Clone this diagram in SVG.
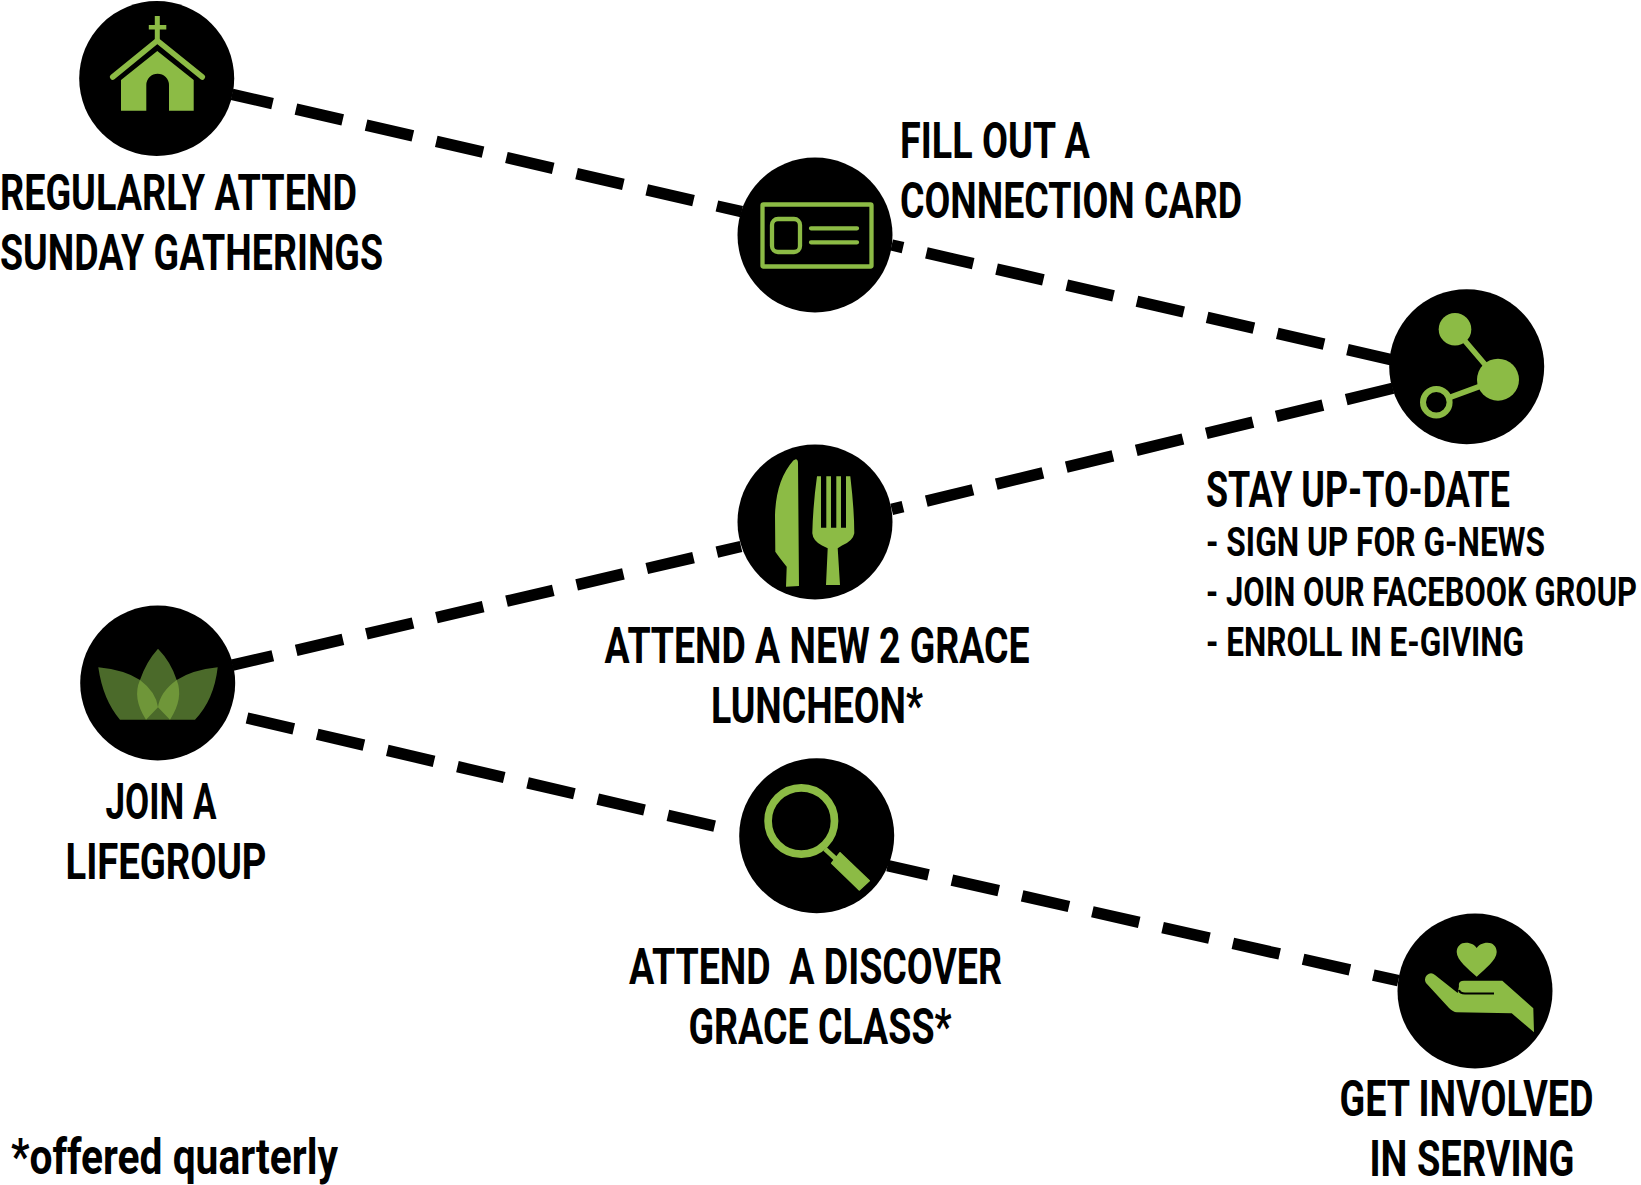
<svg xmlns="http://www.w3.org/2000/svg" width="1641" height="1185" viewBox="0 0 1641 1185">
<style>
.d{fill:none;stroke:#000;stroke-width:11.500;stroke-dasharray:48 24}
.c{fill:#000}
.g{fill:#8cbb45}
.s{fill:none;stroke:#8cbb45}
text{font-family:"Roboto","Liberation Sans",sans-serif;font-weight:700;fill:#000;white-space:pre}
.h{font-size:50px}
.m{font-size:40px}
.q{font-size:49px}
</style>
<rect width="1641" height="1185" fill="#fff"/>
<g id="connectors">
<line class="d" x1="232" y1="94.300" x2="741.700" y2="211.700" stroke-dashoffset="6.400"/>
<line class="d" x1="891.700" y1="245" x2="1392" y2="359.800" stroke-dashoffset="36.400"/>
<line class="d" x1="232.300" y1="665.200" x2="741" y2="546.500" stroke-dashoffset="6.400"/>
<line class="d" x1="891.700" y1="509.400" x2="1394" y2="388" stroke-dashoffset="36.400"/>
<line class="d" x1="247" y1="718" x2="718" y2="827"/>
<line class="d" x1="887.500" y1="865.600" x2="1398.300" y2="980.700" stroke-dashoffset="6"/>
</g>
<g id="node-church">
<circle class="c" cx="156.700" cy="78.500" r="77.500"/>
<path class="g" d="M154.800 16h5v9h6.500v4.500h-6.500V40h-5V29.500h-6V25h6z"/>
<path class="s" d="M112.700 77L157.300 40.700L202.300 77" stroke-width="5.500" stroke-linecap="round" stroke-linejoin="round"/>
<path class="g" d="M121 110.700V80L157.300 51L193.700 80V110.700H169V85A11.300 11.300 0 0 0 146.300 85V110.700Z"/>
<text class="h" transform="translate(0 209.500) scale(.75 1)" textLength="476" lengthAdjust="spacingAndGlyphs">REGULARLY ATTEND</text>
<text class="h" transform="translate(0 269.500) scale(.75 1)" textLength="510.700" lengthAdjust="spacingAndGlyphs">SUNDAY GATHERINGS</text>
</g>
<g id="node-card">
<circle class="c" cx="815" cy="235" r="77.500"/>
<rect class="s" x="762.500" y="204.500" width="109" height="62" stroke-width="4.300" rx="1"/>
<rect class="s" x="772" y="219" width="28" height="33" rx="6" stroke-width="4.300"/>
<path class="s" d="M811 228.300H857M811 242.300H857" stroke-width="4.300" stroke-linecap="round"/>
<text class="h" transform="translate(900 157.500) scale(.75 1)" textLength="253.300" lengthAdjust="spacingAndGlyphs">FILL OUT A</text>
<text class="h" transform="translate(900 218) scale(.75 1)" textLength="456" lengthAdjust="spacingAndGlyphs">CONNECTION CARD</text>
</g>
<g id="node-share">
<circle class="c" cx="1466.700" cy="366.700" r="77.500"/>
<path class="s" d="M1455 329.300L1498 379.700L1436.300 402.300" stroke-width="5.500"/>
<circle class="g" cx="1455" cy="329.300" r="16.300"/>
<circle class="g" cx="1498" cy="379.700" r="21"/>
<circle cx="1436.300" cy="402.300" r="13.300" fill="#000" stroke="#8cbb45" stroke-width="6"/>
<text class="h" transform="translate(1206 507) scale(.75 1)" textLength="405.300" lengthAdjust="spacingAndGlyphs">STAY UP-TO-DATE</text>
<text class="m" transform="translate(1206 556) scale(.75 1)" textLength="452" lengthAdjust="spacingAndGlyphs">- SIGN UP FOR G-NEWS</text>
<text class="m" transform="translate(1206 606) scale(.75 1)" textLength="574.700" lengthAdjust="spacingAndGlyphs">- JOIN OUR FACEBOOK GROUP</text>
<text class="m" transform="translate(1206 655.500) scale(.75 1)" textLength="424" lengthAdjust="spacingAndGlyphs">- ENROLL IN E-GIVING</text>
</g>
<g id="node-luncheon">
<circle class="c" cx="815" cy="522" r="77.500"/>
<path class="g" d="M795.700 459.300Q798 459.500 798 463L799 586L786 586.700L786.700 566.700L780 558.300L775.300 551.700L775 515Q776 480 793.300 460.500Z"/>
<path class="g" d="M817 476.300H821V527.700H826.300V476.300H831V527.700H836.300V476.300H841V527.700H846V476.300H850.300Q854.300 510 854.300 533.300Q853 541 842 545.500L837.700 548.300L840 585H826L827.700 548.300L822 545.500Q813 541 812.300 533.300Q813 505 817 476.300Z"/>
<text class="h" transform="translate(604.500 662.500) scale(.75 1)" textLength="566.700" lengthAdjust="spacingAndGlyphs">ATTEND A NEW 2 GRACE</text>
<text class="h" transform="translate(711 722.500) scale(.75 1)" textLength="282.700" lengthAdjust="spacingAndGlyphs">LUNCHEON*</text>
</g>
<g id="node-lifegroup">
<circle class="c" cx="157.700" cy="683" r="77.500"/>
<path fill="#4b6a2a" d="M98.300 667.300Q125 670 140 680Q146 662 158 648.700Q171 662 176.700 680Q192 670 217.700 667.300Q214 700 195 719.700H120Q103 700 98.300 667.300Z"/>
<path fill="#6f9639" d="M140 680Q132 698 146 719.700L158 707.300Q156 692 140 680ZM176.700 680Q184 698 170 719.700L158 707.300Q160 692 176.700 680Z"/>
<text class="h" transform="translate(105.500 819) scale(.75 1)" textLength="148" lengthAdjust="spacingAndGlyphs">JOIN A</text>
<text class="h" transform="translate(65.500 879) scale(.75 1)" textLength="268" lengthAdjust="spacingAndGlyphs">LIFEGROUP</text>
</g>
<g id="node-discover">
<circle class="c" cx="816.700" cy="835.700" r="77.500"/>
<circle class="s" cx="801.300" cy="821" r="33.200" stroke-width="7.700"/>
<path class="s" d="M825 849L837 860" stroke-width="5"/>
<path class="g" d="M840 852.700L869.300 880.700L859.300 890L831.700 863.300Z" stroke="#8cbb45" stroke-width="1.500" stroke-linejoin="round"/>
<text class="h" transform="translate(629 984) scale(.75 1)" textLength="497.300" lengthAdjust="spacingAndGlyphs">ATTEND  A DISCOVER</text>
<text class="h" transform="translate(688.500 1044) scale(.75 1)" textLength="350.700" lengthAdjust="spacingAndGlyphs">GRACE CLASS*</text>
</g>
<g id="node-serving">
<circle class="c" cx="1475" cy="991" r="77.500"/>
<path class="g" d="M1476.700 976.700C1468 969 1456.700 960 1456.700 952C1456.700 946 1461 942.700 1466 942.700C1471 942.700 1475 945 1476.700 948C1478.500 945 1482.500 942.700 1487.500 942.700C1492.500 942.700 1496.700 946 1496.700 952C1496.700 960 1485 969 1476.700 976.700Z"/>
<path class="g" d="M1426 983Q1423.500 978.500 1427 975Q1431 971.500 1435 975L1457.700 993Q1459 986 1459 986Q1458 981 1464 980.700H1502.300L1533.300 1008.300L1534 1032.300L1511.700 1013.300L1456.700 1012.300Q1453 1012 1449 1008Z"/>
<path fill="none" stroke="#000" stroke-width="2.200" d="M1459 990Q1460 993.500 1465 993.500H1494"/>
<text class="h" transform="translate(1339.500 1115.500) scale(.75 1)" textLength="338.700" lengthAdjust="spacingAndGlyphs">GET INVOLVED</text>
<text class="h" transform="translate(1369.500 1175.500) scale(.75 1)" textLength="273.300" lengthAdjust="spacingAndGlyphs">IN SERVING</text>
</g>
<text class="q" transform="translate(11 1173.500) scale(.75 1)" textLength="436" lengthAdjust="spacingAndGlyphs">*offered quarterly</text>
</svg>
